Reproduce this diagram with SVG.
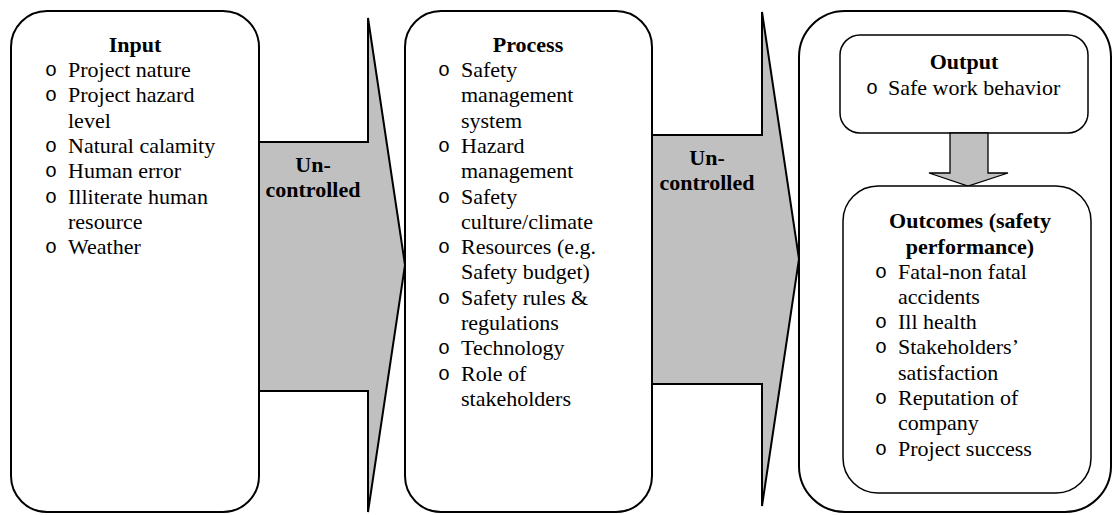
<svg xmlns="http://www.w3.org/2000/svg" width="1114" height="515" viewBox="0 0 1114 515">
<style>
.box{fill:#fff;stroke:#000;stroke-width:2}
.inner{fill:#fff;stroke:#000;stroke-width:1.5}
.arrow{fill:#c0c0c0;stroke:#000;stroke-width:2;stroke-linejoin:miter}
.darrow{fill:#c0c0c0;stroke:#000;stroke-width:1.3}
.t{font-family:"Liberation Serif","Times New Roman",serif;font-size:22px;fill:#000}
.h{font-family:"Liberation Serif","Times New Roman",serif;font-size:22px;font-weight:bold;fill:#000;text-anchor:middle}
.b{font-family:"Liberation Mono","Courier New",monospace;font-size:20px;fill:#000}
</style>
<rect width="1114" height="515" fill="#fff"/>
<g id="connectors">
  <polygon class="arrow" points="250,142 368,142 368,18 405,265 368,512 368,391 250,391"/>
  <polygon class="arrow" points="640,135 762,135 762,12 799,259 762,506 762,384 640,384"/>
  <text class="h" x="313" y="172">Un-</text>
  <text class="h" x="313" y="197">controlled</text>
  <text class="h" x="707" y="165">Un-</text>
  <text class="h" x="707" y="190">controlled</text>
</g>
<g id="input">
  <rect class="box" x="11" y="11" width="248" height="501" rx="36" ry="36"/>
  <text class="h" x="135" y="52">Input</text>
  <text class="b"><tspan x="45" y="76">o</tspan><tspan x="45" y="101.3">o</tspan><tspan x="45" y="151.9">o</tspan><tspan x="45" y="177.2">o</tspan><tspan x="45" y="202.5">o</tspan><tspan x="45" y="253.1">o</tspan></text>
  <text class="t"><tspan x="68" y="77">Project nature</tspan><tspan x="68" y="102.3">Project hazard</tspan><tspan x="68" y="127.6">level</tspan><tspan x="68" y="152.9">Natural calamity</tspan><tspan x="68" y="178.2">Human error</tspan><tspan x="68" y="203.5">Illiterate human</tspan><tspan x="68" y="228.8">resource</tspan><tspan x="68" y="254.1">Weather</tspan></text>
</g>
<g id="process">
  <rect class="box" x="405" y="11" width="247" height="501" rx="36" ry="36"/>
  <text class="h" x="528" y="52">Process</text>
  <text class="b"><tspan x="438" y="76">o</tspan><tspan x="438" y="151.9">o</tspan><tspan x="438" y="202.5">o</tspan><tspan x="438" y="253.1">o</tspan><tspan x="438" y="303.7">o</tspan><tspan x="438" y="354.3">o</tspan><tspan x="438" y="379.6">o</tspan></text>
  <text class="t"><tspan x="461" y="77">Safety</tspan><tspan x="461" y="102.3">management</tspan><tspan x="461" y="127.6">system</tspan><tspan x="461" y="152.9">Hazard</tspan><tspan x="461" y="178.2">management</tspan><tspan x="461" y="203.5">Safety</tspan><tspan x="461" y="228.8">culture/climate</tspan><tspan x="461" y="254.1">Resources (e.g.</tspan><tspan x="461" y="279.4">Safety budget)</tspan><tspan x="461" y="304.7">Safety rules &amp;</tspan><tspan x="461" y="330">regulations</tspan><tspan x="461" y="355.3">Technology</tspan><tspan x="461" y="380.6">Role of</tspan><tspan x="461" y="405.9">stakeholders</tspan></text>
</g>
<g id="results">
  <rect class="box" x="799" y="11" width="312" height="501" rx="46" ry="46"/>
</g>
<g id="output">
  <rect class="inner" x="840" y="35" width="248" height="98" rx="20" ry="20"/>
  <text class="h" x="964" y="69">Output</text>
  <text class="b" x="866" y="94">o</text>
  <text class="t" x="888" y="95">Safe work behavior</text>
</g>
<g id="down-arrow">
  <polygon class="darrow" points="950,133 988,133 988,173 1008,173 968,186 929,173 950,173"/>
</g>
<g id="outcomes">
  <rect class="inner" x="843" y="186" width="248" height="307" rx="35" ry="35"/>
  <text class="h" x="970" y="228">Outcomes (safety</text>
  <text class="h" x="970" y="253.5">performance)</text>
  <text class="b"><tspan x="875" y="277.5">o</tspan><tspan x="875" y="328.1">o</tspan><tspan x="875" y="353.4">o</tspan><tspan x="875" y="404">o</tspan><tspan x="875" y="454.6">o</tspan></text>
  <text class="t"><tspan x="898" y="278.5">Fatal-non fatal</tspan><tspan x="898" y="303.8">accidents</tspan><tspan x="898" y="329.1">Ill health</tspan><tspan x="898" y="354.4">Stakeholders’</tspan><tspan x="898" y="379.7">satisfaction</tspan><tspan x="898" y="405">Reputation of</tspan><tspan x="898" y="430.3">company</tspan><tspan x="898" y="455.6">Project success</tspan></text>
</g>
</svg>
